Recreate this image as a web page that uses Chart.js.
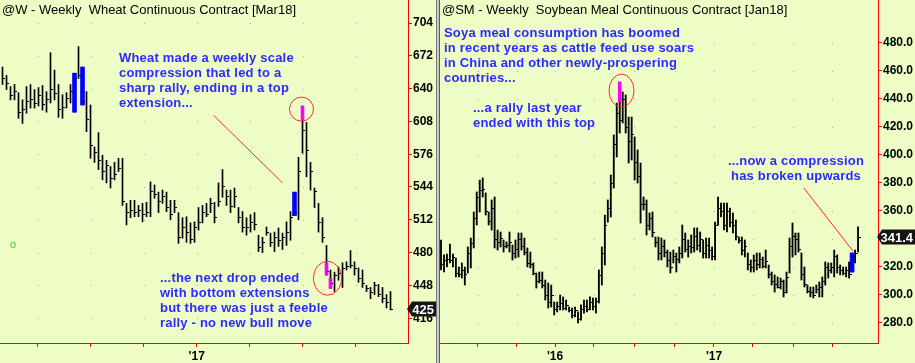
<!DOCTYPE html>
<html>
<head>
<meta charset="utf-8">
<title>Wheat / Soybean Meal weekly</title>
<script src="https://cdn.jsdelivr.net/npm/chart.js@4.4.1/dist/chart.umd.min.js"></script>
<style>
  html, body { margin: 0; padding: 0; }
  body { width: 915px; height: 363px; background: #eefcc6; position: relative; overflow: hidden; }
  canvas { position: absolute; top: 0; }
  #wheatChart { left: 0; }
  #soyChart { left: 440px; }
  #divider { position: absolute; left: 436px; top: 0; width: 2px; height: 363px; background: #c9c9c9; border-left: 1px solid #7a7a7a; border-right: 1px solid #5a5a5a; }
</style>
</head>
<body>
<canvas id="wheatChart" width="436" height="363"></canvas>
<div id="divider"></div>
<canvas id="soyChart" width="475" height="363"></canvas>
<script>
const FONT = "Arial, 'Liberation Sans', sans-serif";
const NOTE_COLOR = '#2b2bff';

// ---- @W weekly wheat (one bar per week) ----
const wheatHigh = [
  661,653,642,644,636,629,642,644,639,641,
  643,637,675,658,644,634,636,644,655,681,
  661,637,624,583,597,575,570,564,568,572,
  572,528,531,531,526,528,529,549,546,539,
  541,539,531,531,519,514,515,509,510,524,
  526,528,533,529,548,561,541,541,543,524,
  520,514,517,519,497,495,505,499,500,504,
  499,510,520,539,573,623,607,568,543,528,
  514,487,463,461,466,470,471,482,471,465,
  463,448,446,451,449,446,439,442
];
const wheatLow = [
  644,639,629,629,611,606,616,621,621,623,
  619,617,626,629,612,611,621,626,617,650,
  624,598,572,568,561,551,548,543,551,559,
  526,507,514,515,515,510,515,515,533,519,
  528,520,512,519,489,494,490,489,490,502,
  509,515,519,509,525,534,526,519,524,509,
  500,497,500,502,481,480,497,486,481,486,
  483,487,492,516,512,577,554,541,524,500,
  490,458,445,442,453,446,463,465,458,451,
  446,442,435,439,437,431,426,424
];
const wheatClose = [
  650,645,634,638,617,620,628,630,626,634,
  625,630,640,636,620,622,631,638,650,653,
  628,610,585,578,570,560,565,553,557,563,
  530,520,522,520,522,518,520,540,537,530,
  535,524,518,524,495,505,500,493,505,510,
  520,518,528,515,530,545,535,525,535,515,
  505,505,510,508,485,490,500,490,495,492,
  495,500,515,520,560,600,580,560,540,510,
  495,462,450,458,460,465,467,468,465,455,
  450,445,442,448,440,436,432,425
];
// compression bars (blue) and extension bars (magenta)
const wheatBlueIdx = [18, 20, 73];
const wheatBlueLow = [617, 624, 516];
const wheatBlueHigh = [655, 661, 539];
const wheatMagIdx = [75, 81, 82];
const wheatMagLow = [610, 458, 445];
const wheatMagHigh = [623, 470, 455];
const wheatYTicks = [416, 448, 480, 512, 544, 576, 608, 640, 672, 704];
const wheatXTicks = [8.8, 22.05, 35.3, 48.55, 61.8, 75.05, 88.3];
const wheatXLabels = ['', '', '', "'17", '', '', ''];

// ---- @SM weekly soybean meal ----
const soyHigh = [
  339.3,328.6,329.3,336.4,329.3,326.4,320.0,322.9,320.0,334.3,
  340.7,359.3,373.6,382.1,383.6,372.9,359.3,367.9,370.0,346.4,
  345.0,339.3,337.9,345.0,335.7,339.3,344.3,344.3,340.7,333.6,
  330.7,322.9,315.7,316.4,316.4,310.7,308.6,307.1,295.0,295.0,
  300.0,298.6,296.4,291.4,290.7,291.4,287.9,292.9,296.4,296.4,
  298.6,297.9,297.9,317.9,334.3,357.1,367.9,385.7,414.3,437.1,
  452.1,445.0,442.9,427.1,427.1,412.9,403.6,394.3,370.0,367.9,
  358.6,359.3,341.4,341.4,340.7,339.3,332.1,330.7,332.1,330.0,
  334.3,350.0,344.3,339.3,342.9,347.9,347.9,345.0,339.3,340.7,
  340.7,334.3,352.1,370.0,365.7,365.7,365.7,362.1,358.6,353.6,
  341.4,341.4,339.3,330.0,325.0,328.6,330.0,330.0,327.1,332.1,
  321.4,316.4,314.3,312.9,312.1,310.7,316.4,340.7,351.4,344.3,
  344.3,330.0,320.0,307.1,305.7,305.7,307.1,309.3,312.9,323.6,
  322.9,322.9,332.1,328.6,321.4,320.0,320.0,323.6,330.0,332.1,
  348.6
];
const soyLow = [
  317.9,316.4,320.0,322.9,320.0,312.9,312.9,312.1,307.1,315.7,
  319.3,333.6,350.0,359.3,370.0,357.1,350.0,346.4,333.6,332.1,
  334.3,330.7,333.6,330.7,325.0,326.4,327.1,332.1,328.6,320.0,
  319.3,314.3,305.0,308.6,305.0,296.4,290.7,291.4,285.7,287.9,
  289.3,289.3,289.3,287.9,283.6,284.3,280.0,282.1,287.1,287.9,
  289.3,289.3,287.1,294.3,307.1,321.4,352.1,355.7,376.4,398.6,
  415.7,422.9,415.7,394.3,396.4,382.1,380.0,351.4,360.7,342.9,
  346.4,341.4,334.3,325.0,325.0,327.1,320.0,315.7,322.9,316.4,
  322.9,326.4,330.7,327.1,330.0,330.7,332.1,330.7,326.4,326.4,
  326.4,325.0,325.0,350.0,355.7,346.4,345.0,348.6,344.3,339.3,
  337.1,328.6,327.1,317.9,316.4,316.4,317.9,319.3,319.3,319.3,
  312.1,307.1,302.1,305.0,304.3,298.6,301.4,315.7,327.1,328.6,
  330.7,310.7,305.7,301.4,298.6,297.9,301.4,298.6,298.6,307.1,
  312.1,315.7,312.9,315.7,314.3,314.3,312.9,312.1,316.4,322.9,
  330.7
];
const soyClose = [
  322,325,326,325,327,316,315,318,315,330,
  337,355,370,375,376,360,353,362,340,338,
  341,335,336,338,330,333,340,335,331,323,
  322,316,310,311,307,300,295,300,290,292,
  294,291,293,289,286,289,283,290,292,290,
  295,292,296,314,330,350,362,380,408,430,
  425,440,420,410,415,395,385,365,365,350,
  355,345,338,330,335,331,325,320,328,326,
  330,340,333,335,334,342,336,340,330,336,
  332,328,350,362,360,350,360,352,350,342,
  339,332,335,322,320,325,322,326,321,324,
  315,310,308,306,310,302,313,335,342,340,
  333,315,308,303,302,300,304,306,310,320,
  318,320,328,320,318,316,318,315,328,330,
  341.4
];
const soyBlueIdx = [138];
const soyBlueLow = [316.4];
const soyBlueHigh = [330.0];
const soyMagIdx = [60];
const soyMagLow = [437.9];
const soyMagHigh = [452.1];
const soyYTicks = [280, 300, 320, 340, 360, 380, 400, 420, 440, 460, 480];
const soyXTicks = [12.42, 25.5, 38.27, 51.36, 64.79, 78.55, 91.64, 104.7, 118.2, 131.3];
const soyXLabels = ['', '', "'16", '', '', '', "'17", '', '', ''];

function makePanel(canvasId, p) {
  const bars = p.high.map((h, i) => ({ x: i, y: [p.low[i], h] }));
  const blue = p.blueIdx.map((i, k) => ({ x: i, y: [p.blueLow[k], p.blueHigh[k]] }));
  const magenta = p.magIdx.map((i, k) => ({ x: i, y: [p.magLow[k], p.magHigh[k]] }));

  const overlay = {
    id: 'overlay',
    beforeDatasetsDraw(chart) {
      // dotted grid: a dot where each time tick meets each price tick
      const { ctx, scales: { x, y } } = chart;
      ctx.save();
      ctx.fillStyle = '#a9b39c';
      x.ticks.forEach(tx => {
        const px = Math.round(x.getPixelForValue(tx.value));
        y.ticks.forEach(ty => {
          ctx.fillRect(px, Math.round(y.getPixelForValue(ty.value)), 1, 1);
        });
      });
      ctx.restore();
    },
    afterDatasetsDraw(chart) {
      // close ticks on the right of each bar
      const { ctx, scales: { x, y } } = chart;
      ctx.save();
      ctx.fillStyle = '#000';
      p.close.forEach((c, i) => {
        const px = Math.floor(x.getPixelForValue(i));
        ctx.fillRect(px + 1, Math.round(y.getPixelForValue(c)), 2, 1);
      });
      ctx.restore();
    },
    afterDraw(chart) {
      const { ctx, chartArea: a, scales: { x, y } } = chart;
      ctx.save();
      ctx.textBaseline = 'alphabetic';
      ctx.textAlign = 'left';
      ctx.fillStyle = '#000';
      ctx.font = `13px ${FONT}`;
      ctx.fillText(p.title, 2, 14);

      ctx.font = `bold 13px ${FONT}`;
      ctx.letterSpacing = '0.2px';
      ctx.fillStyle = NOTE_COLOR;
      p.notes.forEach(n => {
        ctx.textAlign = n.align || 'left';
        n.lines.forEach((t, k) => ctx.fillText(t, n.x, n.y + k * 15));
      });
      ctx.letterSpacing = '0px';
      ctx.textAlign = 'left';

      if (p.marker) {
        ctx.font = `11px ${FONT}`;
        ctx.fillStyle = '#2fd22f';
        ctx.fillText(p.marker.text, p.marker.x, p.marker.y);
      }

      ctx.strokeStyle = '#ff2a2a';
      ctx.lineWidth = 1;
      p.circles.forEach(c => {
        ctx.beginPath();
        ctx.ellipse(x.getPixelForValue(c.x), y.getPixelForValue(c.y), c.rx, c.ry, 0, 0, Math.PI * 2);
        ctx.stroke();
      });
      p.pointers.forEach(l => {
        ctx.beginPath();
        ctx.moveTo(x.getPixelForValue(l[0][0]), y.getPixelForValue(l[0][1]));
        ctx.lineTo(x.getPixelForValue(l[1][0]), y.getPixelForValue(l[1][1]));
        ctx.stroke();
      });

      // last price tag on the axis
      const last = p.close[p.close.length - 1];
      const yc = y.getPixelForValue(last);
      const x0 = a.right - 1;
      const right = chart.width;
      ctx.fillStyle = '#151515';
      ctx.beginPath();
      ctx.moveTo(x0, yc);
      ctx.lineTo(x0 + 5, yc - 7.5);
      ctx.lineTo(right, yc - 7.5);
      ctx.lineTo(right, yc + 7.5);
      ctx.lineTo(x0 + 5, yc + 7.5);
      ctx.closePath();
      ctx.fill();
      ctx.fillStyle = '#fff';
      ctx.font = `bold 13px ${FONT}`;
      ctx.textAlign = 'right';
      ctx.fillText(last.toFixed(p.decimals), right - 2, yc + 5);
      ctx.restore();
    }
  };

  return new Chart(document.getElementById(canvasId), {
    type: 'bar',
    data: {
      datasets: [
        { data: magenta, backgroundColor: '#ff00ff', barThickness: 3, order: 0 },
        { data: blue, backgroundColor: '#0000ff', barThickness: 4, order: 0 },
        { data: bars, backgroundColor: '#000', barThickness: p.barWidth, order: 1 }
      ]
    },
    options: {
      responsive: false,
      animation: false,
      events: [],
      layout: { padding: 0 },
      datasets: { bar: { grouped: false, borderWidth: 0, borderSkipped: false } },
      plugins: { legend: { display: false }, tooltip: { enabled: false } },
      scales: {
        x: {
          type: 'linear',
          min: p.xMin,
          max: p.xMax,
          offset: false,
          grid: { drawOnChartArea: false, offset: false, tickLength: 4, tickColor: '#ff0000', tickWidth: 1 },
          border: { color: '#ff0000', width: 1 },
          ticks: {
            autoSkip: false, maxRotation: 0, padding: 2, color: '#000',
            font: { family: FONT, size: 12, weight: 'bold' },
            callback: (v, i) => p.xLabels[i]
          },
          afterBuildTicks: s => { s.ticks = p.xTicks.map(v => ({ value: v })); },
          afterFit: s => { s.height = 20; s.paddingLeft = 0; s.paddingRight = 0; }
        },
        y: {
          type: 'linear',
          position: 'right',
          min: p.yMin,
          max: p.yMax,
          beginAtZero: false,
          grid: { drawOnChartArea: false, tickLength: 4, tickColor: '#ff0000', tickWidth: 1 },
          border: { color: '#ff0000', width: 1 },
          ticks: {
            autoSkip: false, padding: 1, color: '#000',
            font: { family: FONT, size: 12, weight: 'bold' },
            callback: v => v.toFixed(p.decimals)
          },
          afterBuildTicks: s => { s.ticks = p.yTicks.map(v => ({ value: v })); },
          afterFit: s => { s.width = p.axisWidth; s.paddingTop = 0; s.paddingBottom = 0; }
        }
      }
    },
    plugins: [overlay]
  });
}

makePanel('wheatChart', {
  high: wheatHigh, low: wheatLow, close: wheatClose,
  blueIdx: wheatBlueIdx, blueLow: wheatBlueLow, blueHigh: wheatBlueHigh,
  magIdx: wheatMagIdx, magLow: wheatMagLow, magHigh: wheatMagHigh,
  yTicks: wheatYTicks, xTicks: wheatXTicks, xLabels: wheatXLabels,
  xMin: -0.625, xMax: 101.375, yMin: 391.8, yMax: 726.44,
  axisWidth: 28, decimals: 0, barWidth: 1,
  title: '@W - Weekly  Wheat Continuous Contract [Mar18]',
  notes: [
    { x: 119, y: 62, lines: ['Wheat made a weekly scale', 'compression that led to a', 'sharp rally, ending in a top', 'extension...'] },
    { x: 160, y: 282, lines: ['...the next drop ended', 'with bottom extensions', 'but there was just a feeble', 'rally - no new bull move'] }
  ],
  marker: { text: 'o', x: 10, y: 248 },
  circles: [ { x: 74.75, y: 620, rx: 12, ry: 12 }, { x: 81.25, y: 455, rx: 14, ry: 17 } ],
  pointers: [ [[52.75, 614], [70, 548]] ]
});

makePanel('soyChart', {
  high: soyHigh, low: soyLow, close: soyClose,
  blueIdx: soyBlueIdx, blueLow: soyBlueLow, blueHigh: soyBlueHigh,
  magIdx: soyMagIdx, magLow: soyMagLow, magHigh: soyMagHigh,
  yTicks: soyYTicks, xTicks: soyXTicks, xLabels: soyXLabels,
  xMin: -0.336, xMax: 146.7, yMin: 265.71, yMax: 510.71,
  axisWidth: 37, decimals: 1, barWidth: 1.2,
  title: '@SM - Weekly  Soybean Meal Continuous Contract [Jan18]',
  notes: [
    { x: 4, y: 37, lines: ['Soya meal consumption has boomed', 'in recent years as cattle feed use soars', 'in China and other newly-prospering', 'countries...'] },
    { x: 33, y: 112, lines: ['...a rally last year', 'ended with this top'] },
    { x: 356, y: 165, align: 'center', lines: ['...now a compression', 'has broken upwards'] }
  ],
  circles: [ { x: 60.6, y: 446, rx: 12.5, ry: 16.5 } ],
  pointers: [ [[121.8, 376.4], [138.3, 331.4]] ]
});
</script>
</body>
</html>
